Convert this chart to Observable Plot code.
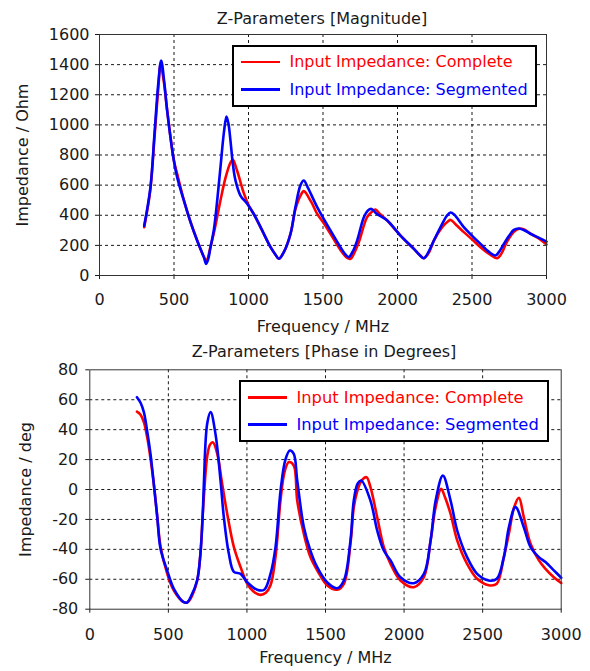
<!DOCTYPE html>
<html>
<head>
<meta charset="utf-8">
<script src="https://cdn.jsdelivr.net/npm/d3@7"></script>
<script src="https://cdn.jsdelivr.net/npm/@observablehq/plot@0.6"></script>
<style>
  html, body { margin: 0; padding: 0; background: #fff; }
  body { font-family: "DejaVu Sans", sans-serif; }
  #wrap { position: relative; width: 590px; height: 671px; overflow: hidden; background: #fff; }
  #wrap svg { position: absolute; left: 0; }
  .title { position: absolute; font-size: 16px; line-height: 16px; color: #1a1a1a; white-space: nowrap; transform: translateX(-50%); }
  .legend { position: absolute; border: 2px solid #000; background: #fff; box-sizing: border-box; }
  .legend .ln { position: absolute; height: 2.6px; }
  .legend .tx { position: absolute; font-size: 16px; line-height: 18px; white-space: nowrap; }
</style>
</head>
<body>
<div id="wrap"></div>
<script>
// ---------- Data ----------
const seriesNames = ["Input Impedance: Complete", "Input Impedance: Segmented"];
const seriesColors = ["#ff0000", "#0000ff"];
const xTicks = [0, 500, 1000, 1500, 2000, 2500, 3000];
const magTicks = [0, 200, 400, 600, 800, 1000, 1200, 1400, 1600];
const phaseTicks = [-80, -60, -40, -20, 0, 20, 40, 60, 80];

// Magnitude, Complete (MHz, Ohm)
const magFreqComplete = [300, 340, 370, 395, 410, 430, 455, 500, 525, 566, 611, 655, 700, 718, 745, 767, 790, 812, 846, 879, 895, 923, 969, 1002, 1040, 1081, 1148, 1180, 1204, 1237, 1282, 1315, 1349, 1371, 1420, 1461, 1510, 1550, 1617, 1660, 1685, 1710, 1740, 1796, 1830, 1852, 1880, 1931, 1980, 2020, 2070, 2110, 2150, 2177, 2210, 2244, 2300, 2340, 2356, 2400, 2445, 2500, 2557, 2620, 2669, 2700, 2730, 2781, 2820, 2850, 2893, 2950, 3000];
const magComplete = [320, 560, 930, 1250, 1400, 1300, 1090, 760, 660, 500, 355, 235, 125, 100, 190, 280, 390, 500, 650, 750, 768, 697, 545, 465, 400, 320, 188, 140, 111, 155, 277, 440, 530, 560, 490, 409, 340, 277, 170, 118, 111, 150, 220, 387, 425, 438, 410, 365, 310, 265, 215, 177, 135, 115, 150, 232, 321, 360, 369, 330, 288, 240, 188, 140, 115, 150, 215, 290, 312, 305, 277, 245, 206];

// Magnitude, Segmented
const magFreqSegmented = [300, 342, 369, 395, 414, 435, 454, 499, 521, 566, 611, 655, 700, 716, 730, 745, 767, 790, 812, 835, 852, 865, 879, 895, 913, 946, 991, 1040, 1081, 1148, 1180, 1204, 1237, 1282, 1315, 1349, 1371, 1400, 1461, 1550, 1617, 1650, 1673, 1700, 1729, 1774, 1800, 1825, 1860, 1931, 2020, 2110, 2150, 2177, 2210, 2244, 2300, 2330, 2356, 2380, 2445, 2500, 2557, 2610, 2658, 2690, 2714, 2750, 2781, 2814, 2850, 2893, 2950, 3000];
const magSegmented = [330, 586, 940, 1280, 1427, 1280, 1095, 763, 653, 498, 354, 232, 122, 77, 110, 188, 300, 498, 719, 950, 1055, 1010, 896, 740, 630, 531, 476, 400, 321, 188, 140, 111, 155, 277, 454, 600, 631, 580, 454, 299, 188, 140, 122, 160, 232, 387, 430, 442, 410, 365, 265, 177, 135, 115, 160, 232, 343, 395, 418, 405, 321, 265, 210, 160, 133, 170, 210, 265, 303, 312, 300, 277, 250, 225];

// Phase, Complete (MHz, deg)
const phaseFreqComplete = [300, 323, 344, 365, 386, 407, 429, 450, 492, 535, 598, 620, 641, 683, 704, 719, 726, 747, 765, 783, 811, 842, 874, 917, 960, 1002, 1040, 1086, 1120, 1150, 1182, 1214, 1240, 1267, 1298, 1320, 1362, 1404, 1447, 1510, 1574, 1617, 1659, 1680, 1700, 1730, 1761, 1786, 1829, 1871, 1914, 1977, 2062, 2126, 2169, 2201, 2236, 2260, 2296, 2338, 2401, 2465, 2539, 2590, 2635, 2667, 2700, 2731, 2762, 2805, 2858, 2900, 2953, 3000];
const phaseComplete = [52, 50, 45, 35, 21, 4, -18, -38, -56, -67.5, -75.3, -75.5, -73, -61, -43, -16, -5, 22, 30, 31.6, 24, 4, -16, -38.5, -52, -63, -68, -70.4, -69, -64, -45, -7, 12, 18.3, 16, -7.4, -29.6, -45.2, -54, -64, -67, -63, -36, -12, -2, 6, 8.2, 1.6, -18.5, -38.5, -49.7, -60.8, -65.3, -58.6, -34, -11.8, 0.4, -5, -16.3, -34, -49.7, -59.7, -64, -63, -45.2, -29.6, -12, -5.6, -18.5, -36.3, -47.4, -53, -58.6, -62.5];

// Phase, Segmented
const phaseFreqSegmented = [300, 323, 344, 365, 386, 407, 429, 450, 492, 535, 598, 620, 641, 683, 704, 719, 726, 747, 769, 800, 832, 853, 885, 917, 960, 1002, 1065, 1110, 1150, 1182, 1214, 1245, 1273, 1298, 1320, 1362, 1404, 1447, 1510, 1574, 1617, 1659, 1680, 1705, 1727, 1786, 1829, 1871, 1914, 1977, 2062, 2126, 2169, 2201, 2247, 2296, 2338, 2401, 2465, 2539, 2590, 2635, 2667, 2709, 2762, 2805, 2858, 2900, 2953, 3000];
const phaseSegmented = [61.7, 58, 51.7, 39, 24, 4, -18, -39.6, -54, -66.4, -75.3, -75.5, -72, -60.8, -43, -16, 4, 44, 51.7, 37, 6, -18.5, -43, -55, -56.4, -62, -67, -67, -56.4, -38.5, -0.7, 20, 26, 23.8, 6, -25, -40.8, -51.9, -62, -66, -60.8, -34, -7.4, 4, 6, -7.4, -27.4, -40.8, -47.4, -58.6, -62.6, -56.4, -34, -7.4, 9.3, -7.4, -27.4, -45.2, -56.4, -60.8, -59.7, -45.2, -25.2, -11.8, -25.2, -38.5, -45.2, -48.5, -54, -59];

// ---------- Drawing ----------
const wrap = document.getElementById("wrap");
const rows = (fs, vs) => fs.map((f, i) => ({f, v: vs[i]}));

function makeChart(o) {
  const svg = Plot.plot({
    width: 590,
    height: o.height,
    marginLeft: o.ml, marginRight: o.mr, marginTop: o.mt, marginBottom: o.mb,
    style: {fontFamily: "DejaVu Sans, sans-serif", fontSize: "16px", color: "#1a1a1a", background: "transparent", overflow: "visible"},
    x: {domain: [0, 3000], label: null},
    y: {domain: o.yDomain, label: null},
    marks: [
      Plot.gridX(xTicks.slice(1, -1), {stroke: "#000", strokeOpacity: 0.9, strokeDasharray: "3,3"}),
      Plot.gridY(o.yTicks.slice(1, -1), {stroke: "#000", strokeOpacity: 0.9, strokeDasharray: "3,3"}),
      Plot.axisX(xTicks, {tickSize: 4, tickPadding: o.xPad, tickFormat: d => String(d),
        label: "Frequency / MHz", labelAnchor: "center", labelOffset: o.xLabOff, labelArrow: "none"}),
      Plot.axisY(o.yTicks, {tickSize: 4, tickPadding: o.yPad, tickFormat: d => String(d),
        label: o.yLabel, labelAnchor: "center", labelOffset: o.yLabOff, labelArrow: "none"}),
      Plot.line(rows(o.fa, o.va), {x: "f", y: "v", stroke: seriesColors[0], strokeWidth: 2.6, curve: "catmull-rom"}),
      Plot.line(rows(o.fb, o.vb), {x: "f", y: "v", stroke: seriesColors[1], strokeWidth: 2.6, curve: "catmull-rom"}),
      Plot.frame({stroke: "#333", strokeWidth: 1})
    ]
  });
  svg.style.top = o.top + "px";
  wrap.appendChild(svg);

  const t = document.createElement("div");
  t.className = "title";
  t.textContent = o.title;
  t.style.left = o.titleX + "px";
  t.style.top = o.titleY + "px";
  wrap.appendChild(t);

  const lg = document.createElement("div");
  lg.className = "legend";
  Object.assign(lg.style, {left: o.lg[0] + "px", top: o.lg[1] + "px", width: o.lg[2] + "px", height: o.lg[3] + "px"});
  seriesNames.forEach((name, i) => {
    const rowY = o.rows[i];
    const ln = document.createElement("div");
    ln.className = "ln";
    Object.assign(ln.style, {left: "7px", width: "39px", top: (rowY - 1.3) + "px", background: seriesColors[i]});
    const tx = document.createElement("div");
    tx.className = "tx";
    tx.textContent = name;
    Object.assign(tx.style, {left: "55.5px", top: (rowY - 8.7) + "px", color: seriesColors[i], fontSize: o.lgFont + "px"});
    lg.appendChild(ln);
    lg.appendChild(tx);
  });
  wrap.appendChild(lg);
}

makeChart({
  top: 0, height: 340, ml: 99, mr: 44, mt: 34, mb: 65,
  yDomain: [0, 1600], yTicks: magTicks, yLabel: "Impedance / Ohm",
  xPad: 14, yPad: 6, xLabOff: 56, yLabOff: 83,
  fa: magFreqComplete, va: magComplete, fb: magFreqSegmented, vb: magSegmented,
  title: "Z-Parameters [Magnitude]", titleX: 322, titleY: 10.5,
  lg: [232, 45, 305, 62], rows: [15, 42.7], lgFont: 16
});

makeChart({
  top: 340, height: 331, ml: 89.3, mr: 29.3, mt: 29.3, mb: 62.3,
  yDomain: [-80, 80], yTicks: phaseTicks, yLabel: "Impedance / deg",
  xPad: 15, yPad: 7.5, xLabOff: 54, yLabOff: 70,
  fa: phaseFreqComplete, va: phaseComplete, fb: phaseFreqSegmented, vb: phaseSegmented,
  title: "Z-Parameters [Phase in Degrees]", titleX: 324, titleY: 343.8,
  lg: [239, 380, 310, 62], rows: [15.3, 42.3], lgFont: 16.3
});
</script>
</body>
</html>
